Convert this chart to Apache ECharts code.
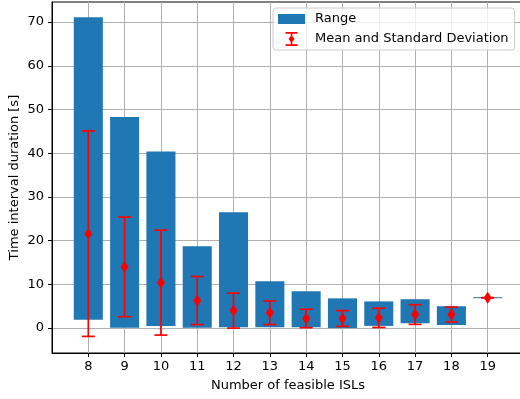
<!DOCTYPE html>
<html>
<head>
<meta charset="utf-8">
<script src="https://cdn.jsdelivr.net/npm/echarts@6/dist/echarts.min.js"></script>
<style>
  html, body { margin: 0; padding: 0; background: #fff; }
  #chart { width: 520px; height: 399px; }
</style>
</head>
<body>
<div id="chart"></div>
<script>
(function () {
    // number of feasible ISLs
    var islCounts = [8, 9, 10, 11, 12, 13, 14, 15, 16, 17, 18, 19];
    // range of the time interval duration [s]
    var rangeMin = [1.9, 0.1, 0.5, 0.1, 0.2, 0.2, 0.2, 0.0, 0.5, 1.1, 0.7, 6.95];
    var rangeMax = [71.1, 48.3, 40.4, 18.7, 26.5, 10.7, 8.4, 6.8, 6.1, 6.6, 5.0, 6.95];
    // mean and standard deviation
    var means = [21.6, 14.0, 10.4, 6.3, 4.0, 3.5, 2.2, 2.2, 2.35, 3.1, 3.1, 6.95];
    var stds = [23.5, 11.4, 12.0, 5.5, 4.0, 2.7, 2.1, 1.8, 2.2, 2.25, 1.7, 0];
    var yTicks = [0, 10, 20, 30, 40, 50, 60, 70];

    var font = 'DejaVu Sans';
    var blue = '#1f77b4';

    var rangeData = [], meanData = [], errData = [];
    for (var i = 0; i < islCounts.length; i++) {
        rangeData.push([islCounts[i], rangeMin[i], rangeMax[i]]);
        meanData.push([islCounts[i], means[i]]);
        errData.push([islCounts[i], means[i] - stds[i], means[i] + stds[i]]);
    }

    var myChart = echarts.init(document.getElementById('chart'), null, { renderer: 'canvas' });

    var option = {
        animation: false,
        textStyle: { fontFamily: font },
        grid: {
            left: 52, right: -4, top: 2, bottom: 46,
            outerBoundsMode: 'none',
            containLabel: false,
            show: true, borderColor: '#000', borderWidth: 1
        },
        legend: {
            orient: 'vertical',
            left: 273, top: 8,
            padding: [4, 6, 4, 5],
            itemGap: 6,
            itemWidth: 27, itemHeight: 14,
            backgroundColor: 'rgba(255,255,255,0.8)',
            borderColor: '#cccccc', borderWidth: 1, borderRadius: 3,
            textStyle: { fontFamily: font, fontSize: 13, color: '#000', padding: [0, 0, 0, 5] },
            data: [
                { name: 'Range', icon: 'path://M0,0M27,14M0,2H27V12H0Z', itemStyle: { color: blue } },
                {
                    name: 'Mean and Standard Deviation',
                    icon: 'path://M0,0M27,14M7.5,0H19.5V1.7H7.5ZM7.5,12.3H19.5V14H7.5ZM12.7,1.7H14.3V12.3H12.7ZM13.5,3L16.5,7L13.5,11L10.5,7Z',
                    itemStyle: { color: 'red' }
                }
            ]
        },
        xAxis: {
            type: 'value',
            min: 7, max: 20, interval: 1,
            name: 'Number of feasible ISLs',
            nameLocation: 'middle', nameGap: 26,
            nameTextStyle: { fontFamily: font, fontSize: 13, color: '#000' },
            axisLine: { onZero: false, lineStyle: { color: '#000', width: 1 } },
            axisTick: { show: true, length: 4, lineStyle: { color: '#000' }, customValues: islCounts },
            axisLabel: { fontFamily: font, fontSize: 13, color: '#000', margin: 7, customValues: islCounts },
            splitLine: { show: true, lineStyle: { color: '#b0b0b0', width: 1 } }
        },
        yAxis: {
            type: 'value',
            min: -5.7, max: 74.6, splitNumber: 8,
            name: 'Time interval duration [s]',
            nameLocation: 'middle', nameGap: 31,
            nameMoveOverlap: false,
            nameTextStyle: { fontFamily: font, fontSize: 13, color: '#000' },
            axisLine: { show: true, onZero: false, lineStyle: { color: '#000', width: 1 } },
            axisTick: { show: true, length: 4, lineStyle: { color: '#000' }, customValues: yTicks },
            axisLabel: { fontFamily: font, fontSize: 13, color: '#000', margin: 8, customValues: yTicks },
            splitLine: { show: true, lineStyle: { color: '#b0b0b0', width: 1 } }
        },
        series: [
            {
                name: 'Range',
                type: 'custom',
                z: 2,
                renderItem: function (params, api) {
                    var x = api.value(0);
                    var lo = api.coord([x, api.value(1)]);
                    var hi = api.coord([x, api.value(2)]);
                    var w = api.size([0.8, 0])[0];
                    var h = Math.max(lo[1] - hi[1], 1);
                    return {
                        type: 'rect',
                        shape: { x: lo[0] - w / 2, y: hi[1] - (h > lo[1] - hi[1] ? 0.5 : 0), width: w, height: h },
                        style: { fill: blue }
                    };
                },
                itemStyle: { color: blue },
                data: rangeData
            },
            {
                name: 'Mean and Standard Deviation',
                type: 'custom',
                z: 5,
                renderItem: function (params, api) {
                    var x = api.value(0);
                    var lo = api.coord([x, api.value(1)]);
                    var hi = api.coord([x, api.value(2)]);
                    var cw = 6.5;
                    var st = { stroke: 'red', lineWidth: 1.7 };
                    return {
                        type: 'group',
                        children: [
                            { type: 'line', shape: { x1: lo[0], y1: lo[1], x2: hi[0], y2: hi[1] }, style: st },
                            { type: 'line', shape: { x1: lo[0] - cw, y1: lo[1], x2: lo[0] + cw, y2: lo[1] }, style: st },
                            { type: 'line', shape: { x1: hi[0] - cw, y1: hi[1], x2: hi[0] + cw, y2: hi[1] }, style: st }
                        ]
                    };
                },
                itemStyle: { color: 'red' },
                data: errData
            },
            {
                name: 'Mean and Standard Deviation',
                type: 'scatter',
                z: 6,
                symbol: 'diamond',
                symbolSize: [8, 12],
                itemStyle: { color: 'red', opacity: 1 },
                data: meanData
            }
        ]
    };
    myChart.setOption(option);

    window.addEventListener('resize', function () {
        myChart.resize();
    });
})();
</script>
</body>
</html>
